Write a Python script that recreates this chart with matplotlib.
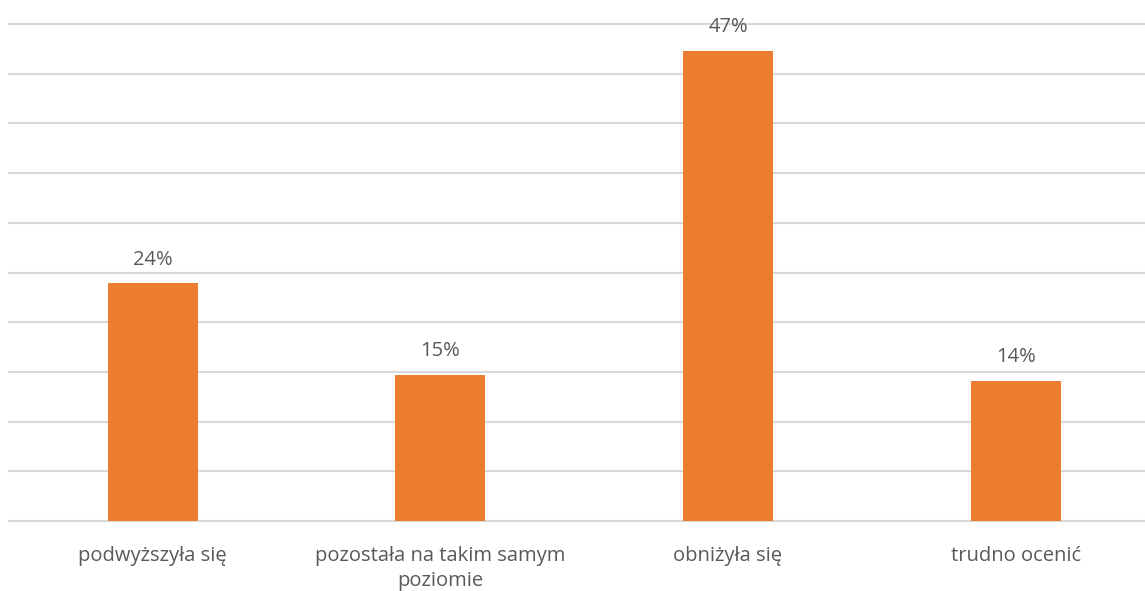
import matplotlib
matplotlib.use("Agg")
import matplotlib.pyplot as plt

categories = ["podwyższyła się", "pozostała na takim samym\npoziomie", "obniżyła się", "trudno ocenić"]
values = [23.9, 14.7, 47.3, 14.1]
labels = ["24%", "15%", "47%", "14%"]

plt.rcParams["font.family"] = ["Open Sans", "DejaVu Sans"]
fig = plt.figure(figsize=(11.45, 5.91), dpi=100)
ax = fig.add_axes([9 / 1145, 1 - 521 / 591, 1 - 9 / 1145, (521 - 24) / 591])

x = range(len(categories))
bars = ax.bar(x, values, width=0.313, color="#ED7D31", zorder=3)
for b, lab in zip(bars, labels):
    ax.annotate(lab, (b.get_x() + b.get_width() / 2, b.get_height()), xytext=(0, 10),
                textcoords="offset points", ha="center", va="bottom", fontsize=14.5, color="#595959")

ax.set_xlim(-0.5, 3.45)
ax.set_ylim(0, 50)
ax.set_yticks(range(0, 51, 5))
ax.set_yticklabels([])
ax.tick_params(axis="y", length=0)
ax.tick_params(axis="x", length=0, pad=18, labelsize=14.5, labelcolor="#595959")
ax.set_xticks(list(x))
ax.set_xticklabels(categories, linespacing=1.35)
ax.grid(axis="y", color="#d9d9d9", linewidth=1.5, zorder=0)
for gl in ax.get_ygridlines():
    gl.set_clip_on(False)
for s in ["top", "right", "left"]:
    ax.spines[s].set_visible(False)
ax.spines["bottom"].set_color("#d9d9d9")
ax.spines["bottom"].set_linewidth(1.5)

fig.savefig("out.png", dpi=100)
